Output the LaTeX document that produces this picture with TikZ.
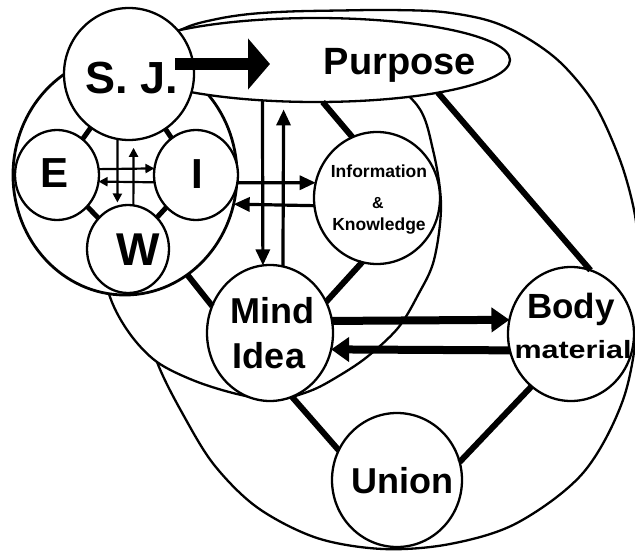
\documentclass[tikz,border=0pt]{standalone}
\usepackage{fontspec}
\setmainfont{Liberation Sans}
\usetikzlibrary{shapes.geometric,arrows.meta,calc}
\newcommand{\sz}[1]{\fontsize{#1}{#1}\selectfont\bfseries}
\begin{document}
\begin{tikzpicture}[x=1pt,y=-1pt,
  shp/.style={draw, line width=2.3pt, fill=white, ellipse, inner sep=0pt, outer sep=0pt},
  lbl/.style={inner sep=0pt, anchor=base, text=black},
  conn/.style={line width=6pt},
  stub/.style={line width=5pt},
  arrS/.style={line width=2.2pt, -{Triangle[length=9pt,width=9pt]}},
  arrM/.style={line width=3.2pt, -{Triangle[length=16pt,width=14pt]}},
  arrL/.style={line width=8pt, -{Triangle[length=18pt,width=24pt]}},
  bigarr/.style={line width=12pt, -{Triangle[length=22pt,width=50pt]}},
  outline/.style={draw, line width=2.3pt, fill=white}
]
\fill[white] (0,0) rectangle (635,551);
\useasboundingbox (0,0) rectangle (635,551);
\clip (0,0) rectangle (635,551);

% large outer shape
\path[outline] plot[smooth cycle, tension=0.55] coordinates {
  (157,362) (185,418) (215,466) (258,508) (317,538) (383,549) (450,544)
  (517,523) (583,473) (623,400) (638,320) (638,250) (634,210) (620,160)
  (595,105) (562,64) (527,38) (490,21) (443,12) (390,10) (340,10.5)
  (290,11.5) (250,14) (217,19) (185,28) (150,50) (130,120) (127,200) (135,290)};

% medium shape
\path[outline] plot[smooth cycle, tension=0.55] coordinates {
  (417,105) (433,150) (441,205) (434,260) (418,295) (398,328) (367,357)
  (337,377) (310,391) (275,400) (237,394) (195,381) (157,362) (130,334)
  (110,297) (97,240) (108,160) (150,95) (220,65) (300,55) (370,70)};

% left container
\node[shp, line width=2.8pt, minimum width=224pt, minimum height=240pt] (cont) at (125,175) {};
% purpose ellipse
\node[shp, minimum width=388pt, minimum height=84pt] (purpose) at (316,60) {};
% small circles
\node[shp, minimum width=130pt, minimum height=132pt] (sj) at (129,74) {};
\node[shp, minimum width=84pt, minimum height=90pt] (e) at (57,175) {};
\node[shp, minimum width=84pt, minimum height=90pt] (i) at (196,175) {};
\node[shp, minimum width=82pt, minimum height=88pt] (w) at (128,249) {};
\node[shp, minimum width=126pt, minimum height=132pt] (info) at (377,198) {};
\node[shp, minimum width=126pt, minimum height=136pt] (mind) at (270,333) {};
\node[shp, minimum width=126pt, minimum height=134pt] (body) at (571,334) {};
\node[shp, minimum width=130pt, minimum height=134pt] (union) at (397,480) {};

% thick connectors
\draw[conn] (mind.-71.1) -- (union.153.8);
\draw[conn] (body.-127.7) -- (union.16.4);
\draw[conn] (mind.29.6) -- (info.-103.2);
\draw[conn] (purpose.-81.7) -- (info.112.3);
\draw[conn] (purpose.-15.8) -- (body.73.9);
\draw[conn] (cont.-58.7) -- (mind.155.5);
\draw[stub] (sj) -- (e);
\draw[stub] (sj) -- (i);
\draw[stub] (e) -- (w);
\draw[stub] (i) -- (w);

% arrows inside the left container
\draw[arrS] (e.8.2) -- (i.171.8);
\draw[arrS] (i.-170.4) -- (e.-9.6);
\draw[arrS, shorten >=4pt] (sj.-100.5) -- (w.104.5);
\draw[arrS, shorten >=8pt] (w.83.5) -- (sj.-86.5);

% arrows between container, info, purpose, mind
\draw[arrM] (cont.-4.1) -- (info.166.2);
\draw[arrM] (info.-173.6) -- (cont.-15.5);
\draw[arrM] (purpose.-143.3) -- (mind.96.8);
\draw[arrM, shorten >=8pt] (mind.79) -- (purpose.-128.6);

% mind <-> body
\draw[arrL] (mind.11.9) -- (body.167.2);
\draw[arrL] (body.-165.3) -- (mind.-15.6);

% big arrow S.J. -> Purpose
\coordinate (ptip) at (270,64);
\draw[bigarr] ($(sj.center)+(46,-10)$) -- (ptip);

% texts
\node[lbl] (tsj) at (131.5,93) {\sz{45}S. J.};
\node[lbl] (te) at (55,187) {\sz{42}E};
\node[lbl] (ti) at (197,188) {\sz{42}I};
\node[lbl] (tw) at (138.5,265) {\sz{46}W};
\node[lbl] (tpur) at (400,75) {\sz{38}Purpose};
\node[lbl] (tinf) at (379,177) {\sz{17.5}Information};
\node[lbl] (tamp) at (378,208) {\sz{16}\&};
\node[lbl] (tknow) at (379,230) {\sz{17.5}Knowledge};
\node[lbl] (tmind) at (272,323) {\sz{36}Mind};
\node[lbl] (tidea) at (269,368) {\sz{36}Idea};
\node[lbl] (tbody) at (571,318) {\sz{35}Body};
\node[lbl] (tmat) at (573,358) {\scalebox{1.22}[1]{\sz{25}material}};
\node[lbl] (tunion) at (402,493) {\sz{36}Union};
\end{tikzpicture}
\end{document}
